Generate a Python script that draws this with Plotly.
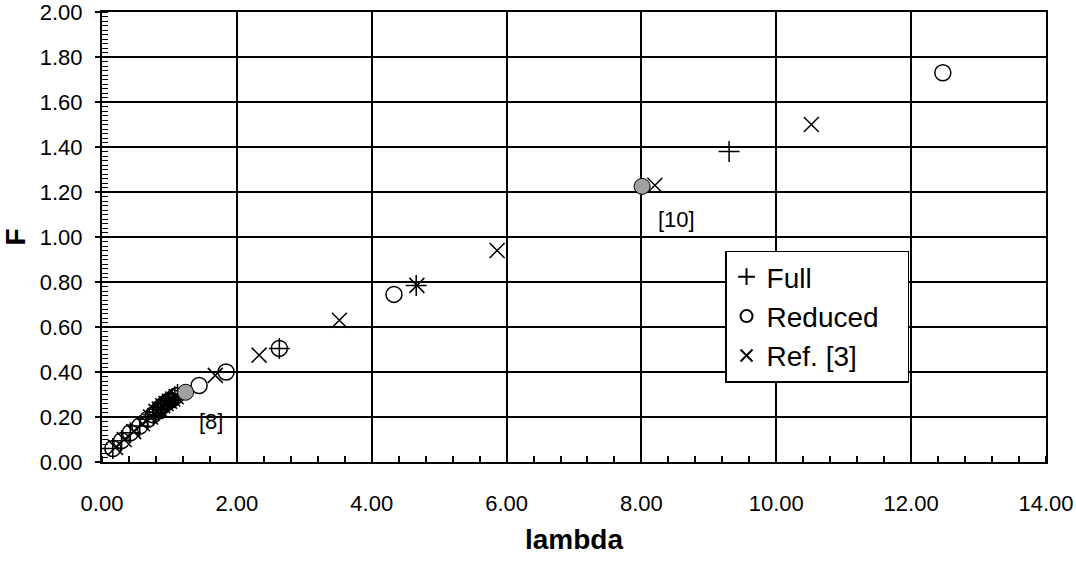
import plotly.graph_objects as go

# Full model
full_lambda = [0.16, 0.29, 0.42, 0.56, 0.68, 0.76, 0.80, 0.84, 0.88, 0.92, 0.96, 1.00, 1.04, 1.08, 1.12, 2.63, 4.66, 9.30]
full_F      = [0.06, 0.095, 0.13, 0.16, 0.19, 0.21, 0.22, 0.235, 0.245, 0.255, 0.265, 0.275, 0.28, 0.29, 0.30, 0.505, 0.785, 1.38]

# Reduced model
red_lambda = [0.16, 0.29, 0.42, 0.56, 0.68, 0.76, 0.82, 0.86, 0.90, 0.94, 0.98, 1.02, 1.06, 1.10, 1.44, 1.84, 2.63, 4.33, 12.47]
red_F      = [0.06, 0.095, 0.13, 0.16, 0.19, 0.21, 0.225, 0.24, 0.25, 0.26, 0.27, 0.275, 0.285, 0.295, 0.34, 0.40, 0.505, 0.745, 1.73]

# Highlighted reduced-model points ([8], [10])
hl_lambda = [1.24, 8.01]
hl_F      = [0.31, 1.225]

# Ref. [3]
ref_lambda = [0.20, 0.33, 0.47, 0.60, 0.72, 0.80, 0.85, 0.90, 0.95, 1.00, 1.05, 1.10, 1.68, 2.33, 3.52, 4.67, 5.86, 8.20, 10.52]
ref_F      = [0.065, 0.10, 0.135, 0.17, 0.20, 0.225, 0.235, 0.25, 0.26, 0.27, 0.28, 0.29, 0.385, 0.475, 0.63, 0.785, 0.94, 1.23, 1.50]

labels_text = ["[10]", "[8]"]
labels_x = [8.52, 1.62]
labels_y = [1.076, 0.179]

x_ticks = [0, 2, 4, 6, 8, 10, 12, 14]
y_ticks = [0, 0.2, 0.4, 0.6, 0.8, 1.0, 1.2, 1.4, 1.6, 1.8, 2.0]

FONT = "Liberation Sans, Arial, sans-serif"
PAD = "\u00a0\u00a0\u00a0"

fig = go.Figure()
fig.add_trace(go.Scatter(
    x=full_lambda, y=full_F, mode="markers", name="Full",
    marker=dict(symbol="cross-thin-open", size=15, color="black",
                line=dict(color="black", width=1.5))))
fig.add_trace(go.Scatter(
    x=red_lambda, y=red_F, mode="markers", name="Reduced" + PAD,
    marker=dict(symbol="circle-open", size=16, color="black",
                line=dict(color="black", width=1.5))))
fig.add_trace(go.Scatter(
    x=ref_lambda, y=ref_F, mode="markers", name="Ref. [3]",
    marker=dict(symbol="x-thin-open", size=15, color="black",
                line=dict(color="black", width=1.5))))
fig.add_trace(go.Scatter(
    x=hl_lambda, y=hl_F, mode="markers", showlegend=False,
    marker=dict(symbol="circle", size=16, color="#a0a0a0",
                line=dict(color="black", width=1))))

for t, xv, yv in zip(labels_text, labels_x, labels_y):
    fig.add_annotation(x=xv, y=yv, text=t, showarrow=False,
                       font=dict(family=FONT, size=22, color="black"))

fig.update_layout(
    width=1076, height=565,
    margin=dict(l=102, r=30, t=12, b=103),
    paper_bgcolor="white", plot_bgcolor="white",
    font=dict(family=FONT, size=22, color="black"),
    showlegend=True,
    legend=dict(x=0.66, y=0.47, xanchor="left", yanchor="top",
                bgcolor="white", bordercolor="black", borderwidth=1.5,
                font=dict(family=FONT, size=28, color="black"),
                itemsizing="constant"),
)
fig.update_xaxes(
    range=[0, 14], tickvals=x_ticks, tickformat=".2f", automargin=False,
    ticklabeloverflow="allow",
    showgrid=True, gridcolor="black", gridwidth=1.5,
    showline=True, linecolor="black", linewidth=2, mirror=True,
    ticks="", ticklabelstandoff=21, zeroline=False,
    minor=dict(ticks="inside", dtick=0.4, tick0=0, ticklen=6,
               tickcolor="black", tickwidth=1.5, showgrid=False),
    title=dict(text="<b>lambda</b>", font=dict(family=FONT, size=28), standoff=14),
    tickfont=dict(family=FONT, size=22, color="black"),
)
fig.update_yaxes(
    range=[0, 2], tickvals=y_ticks, tickformat=".2f", automargin=False,
    ticklabeloverflow="allow",
    showgrid=True, gridcolor="black", gridwidth=1.5,
    showline=True, linecolor="black", linewidth=2, mirror=True,
    ticks="outside", ticklen=5, tickcolor="black", tickwidth=1.5,
    ticklabelstandoff=8, zeroline=False,
    minor=dict(ticks="inside", dtick=0.02, tick0=0, ticklen=6,
               tickcolor="black", tickwidth=1, showgrid=False),
    title=dict(text="<b>F</b>", font=dict(family=FONT, size=28), standoff=10),
    tickfont=dict(family=FONT, size=22, color="black"),
)

fig.write_html("out.html", config={"displayModeBar": False},
               post_script="document.body.style.margin='0px';document.body.style.overflow='hidden';")
